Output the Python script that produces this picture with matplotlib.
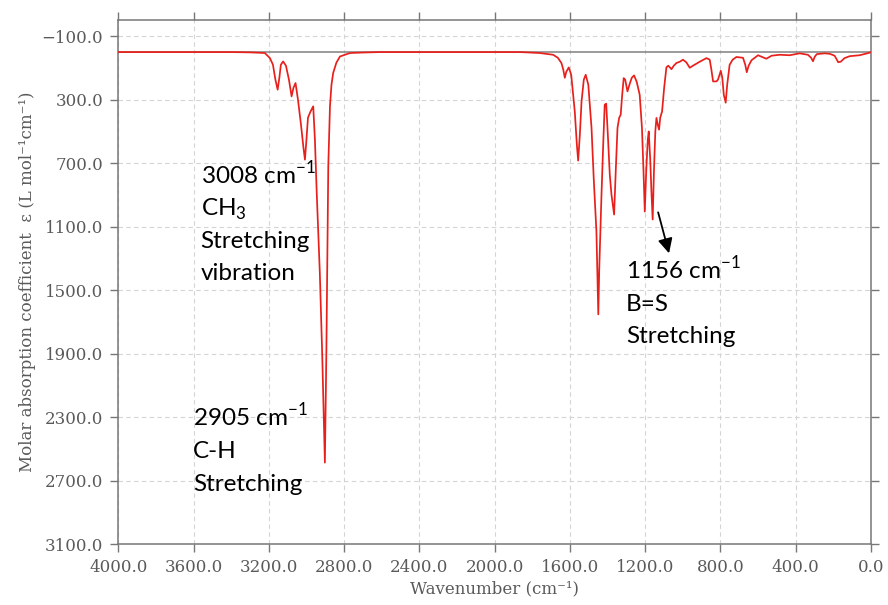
import matplotlib
matplotlib.use('Agg')
import matplotlib.pyplot as plt

# IR spectrum traced point by point (wavenumber in cm^-1, molar absorption)
wavenumber = [
    4000, 3600, 3400, 3300, 3221, 3194, 3178, 3165, 3153, 3144, 3136, 3124,
    3109, 3093, 3079, 3069, 3058, 3045, 3029, 3016, 3008, 3000, 2992, 2979,
    2964, 2955, 2946, 2929, 2916, 2907, 2902, 2898, 2894, 2890, 2884, 2875,
    2867, 2858, 2841, 2822, 2769, 2700, 2610, 2200, 1866, 1760, 1689, 1664,
    1645, 1635, 1627, 1619, 1606, 1593, 1574, 1563, 1556, 1547, 1538, 1526,
    1516, 1502, 1485, 1473, 1459, 1453, 1449, 1444, 1432, 1422, 1415, 1407,
    1397, 1388, 1379, 1365, 1356, 1347, 1338, 1330, 1322, 1314, 1306, 1294,
    1282, 1271, 1259, 1245, 1229, 1217, 1209, 1202, 1194, 1186, 1181, 1173,
    1166, 1160, 1153, 1146, 1140, 1133, 1126, 1120, 1110, 1099, 1087, 1077,
    1060, 1048, 1034, 1016, 999, 981, 963, 946, 910, 874, 857, 848,
    839, 821, 813, 798, 790, 782, 772, 764, 751, 735, 715, 680,
    668, 660, 650, 635, 600, 556, 528, 485, 432, 379, 335, 318,
    308, 299, 288, 246, 219, 193, 174, 161, 140, 113, 60, 7, 0,
]
absorption = [
    0, 0, 0, 2, 6, 38, 80, 174, 237, 162, 80, 59,
    86, 174, 279, 225, 195, 300, 458, 602, 678, 552, 414, 376,
    342, 552, 867, 1389, 1916, 2333, 2587, 2251, 1874, 1389, 720, 342,
    206, 132, 67, 28, 6, 3, 0, 0, 0, 6, 17, 36,
    69, 111, 162, 124, 97, 143, 374, 583, 684, 520, 311, 174,
    143, 206, 478, 804, 1129, 1433, 1653, 1370, 898, 552, 332, 325,
    552, 772, 898, 1024, 741, 478, 414, 395, 269, 164, 174, 248,
    200, 162, 147, 187, 269, 478, 741, 1005, 741, 552, 500, 678,
    898, 1055, 741, 500, 415, 458, 489, 414, 374, 225, 96, 86,
    108, 86, 69, 61, 48, 65, 99, 86, 61, 38, 48, 111,
    185, 185, 174, 118, 162, 269, 319, 206, 80, 48, 31, 36,
    80, 127, 86, 52, 20, 42, 23, 17, 20, 8, 17, 36,
    58, 30, 13, 8, 11, 23, 64, 61, 38, 26, 20, 4, 0,
]

x_ticks = [4000, 3600, 3200, 2800, 2400, 2000, 1600, 1200, 800, 400, 0]
y_ticks = [-100, 300, 700, 1100, 1500, 1900, 2300, 2700, 3100]

# peak labels: (x, first baseline, lines)
labels = [
    (3562, 829, ["3008 cm$^{\\mathsf{-1}}$", "CH$_3$", "Stretching", "vibration"]),
    (3602, 2358, ["2905 cm$^{\\mathsf{-1}}$", "C-H", "Stretching"]),
    (1303, 1427, ["1156 cm$^{\\mathsf{-1}}$", "B=S", "Stretching"]),
]
line_step = 203

axis_gray = '#777777'
label_gray = '#5a5a5a'

plt.rcParams['mathtext.fontset'] = 'custom'
plt.rcParams['mathtext.rm'] = 'Lato'
plt.rcParams['mathtext.sf'] = 'Lato'

fig = plt.figure(figsize=(8.88, 6.05), dpi=100)
ax = fig.add_axes([0.1332, 0.1008, 0.8476, 0.8656])

ax.axhline(0, color='#808080', lw=1.1, zorder=2)
ax.plot(wavenumber, absorption, color='#e8201c', lw=1.25, zorder=3)

ax.set_xlim(4000, 0)
ax.set_ylim(3100, -200)
ax.set_xticks(x_ticks)
ax.set_yticks(y_ticks)
ax.set_xticklabels([f"{v:.1f}" for v in x_ticks])
ax.set_yticklabels([f"{v:.1f}".replace('-', '\u2212') for v in y_ticks])

ax.grid(True, color='#d4d4d4', lw=0.8, ls=(0, (4, 3)))
ax.set_axisbelow(True)

for sp in ax.spines.values():
    sp.set_color(axis_gray)
    sp.set_linewidth(1.1)

ax.tick_params(axis='both', which='both', direction='out', length=6,
               width=1, color=axis_gray, labelcolor=label_gray,
               labelsize=12, pad=5, top=True, right=True)
for lab in ax.get_xticklabels() + ax.get_yticklabels():
    lab.set_family('DejaVu Serif')

ax.set_xlabel("Wavenumber (cm\u207b\u00b9)", family=['DejaVu Serif'], fontsize=12,
              color=label_gray, labelpad=3)
ax.set_ylabel("Molar absorption coefficient  \u03b5 (L mol\u207b\u00b9cm\u207b\u00b9)",
              family=['DejaVu Serif'], fontsize=12, color=label_gray, labelpad=4)

for x, y0, lines in labels:
    for i, line in enumerate(lines):
        ax.text(x, y0 + i * line_step, line, family=['Lato', 'DejaVu Sans'],
                fontsize=17.5, color='black', ha='left', va='baseline', zorder=4)

ax.annotate("", xy=(1073, 1268), xytext=(1131, 1010),
            arrowprops=dict(arrowstyle='-|>', color='black', lw=1.3,
                            mutation_scale=22, shrinkA=0, shrinkB=0))

fig.savefig("out.png", dpi=100)
